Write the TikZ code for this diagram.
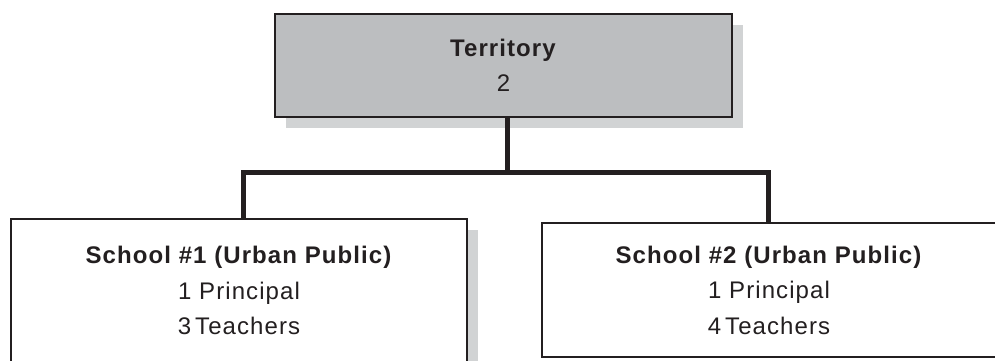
\documentclass[tikz,border=0pt]{standalone}
\usepackage{fontspec}
\setmainfont{Liberation Sans}[LetterSpace=4.5]
\usetikzlibrary{shadows}

\definecolor{inkline}{HTML}{231F20}
\definecolor{boxgray}{HTML}{BCBEC0}
\definecolor{shadegray}{HTML}{D1D3D4}

\tikzset{
  orgbox/.style={draw=inkline, line width=2.5pt, rectangle, align=center,
    inner sep=0pt, text=inkline,
    font=\fontsize{24}{35.5}\selectfont},
  boxshade/.style={drop shadow={shadow xshift=11pt, shadow yshift=-11pt,
    fill=shadegray, opacity=1}},
  conn/.style={draw=inkline, line width=5pt, line join=miter}
}

\begin{document}
\begin{tikzpicture}[x=1pt, y=-1pt]
  \useasboundingbox (0,0) rectangle (995,360);
  \clip (0,0) rectangle (995,360);

  % territory at the top
  \node[orgbox, boxshade, fill=boxgray, minimum width=457pt, minimum height=103pt]
    (territory) at (503.5,65.5) {\textbf{Territory}\\2};

  % the two schools
  \node[orgbox, boxshade, fill=white, minimum width=456pt, minimum height=143pt]
    (school1) at (239,290.5) {\textbf{School \#1 (Urban Public)}\\1 Principal\\3\,Teachers};
  \node[orgbox, fill=white, minimum width=454pt, minimum height=134pt]
    (school2) at (769,290) {\textbf{School \#2 (Urban Public)}\\1 Principal\\4\,Teachers};

  % branching connector
  \coordinate (stem) at (507,172.5);
  \coordinate (busL) at (243.5,172.5);
  \coordinate (busR) at (768,172.5);
  \draw[conn] (territory.south -| stem) -- (stem);
  \draw[conn] (busL |- school1.north) -- (busL) -- (busR) -- (busR |- school2.north);
\end{tikzpicture}
\end{document}
